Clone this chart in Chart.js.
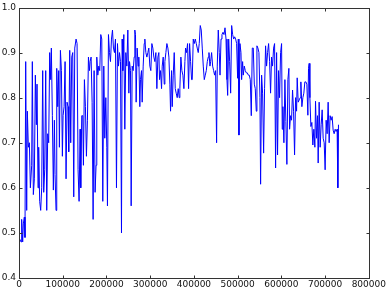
<!DOCTYPE html>
<html>
<head>
<meta charset="utf-8">
<script src="https://cdn.jsdelivr.net/npm/chart.js@4.4.1/dist/chart.umd.min.js"></script>
<style>
  body { margin: 0; background: #fff; }
  #wrap { width: 388px; height: 290px; }
</style>
</head>
<body>
<div id="wrap"><canvas id="myChart" width="388" height="290"></canvas></div>
<script>
// x positions (samples) and values
const xs = [
  0, 2300, 4600, 6100, 8400, 9900, 12200, 13700, 15300, 17600, 19100, 21400, 23700, 26000, 29000,
  30500, 32800, 35100, 37400, 39700, 41200, 43500, 45000, 47300, 49600, 51900, 54200, 56500, 58800,
  61100, 63400, 65700, 67900, 70200, 72500, 74000, 76300, 78600, 80900, 82400, 84700, 86300, 88600,
  90800, 92400, 94700, 97000, 99200, 100800, 103100, 105400, 107600, 109900, 112200, 113700, 116000,
  118300, 120600, 122900, 125200, 127500, 130500, 132800, 135100, 137400, 139700, 141200, 143500,
  145800, 147300, 149600, 151900, 154200, 156500, 158800, 161100, 162600, 164900, 167200, 169500,
  171800, 174000, 176300, 177900, 180200, 182500, 184700, 187000, 189300, 191600, 193900, 196200,
  198500, 200800, 202300, 204600, 206900, 209200, 211500, 213800, 216000, 218300, 220600, 222900,
  225200, 227500, 229800, 232100, 234400, 235900, 237400, 239700, 242000, 244300, 246600, 248900,
  251200, 252700, 255000, 256500, 258800, 261100, 263400, 264900, 266400, 267900, 270200, 272500,
  274000, 276300, 277800, 280200, 281700, 284000, 286300, 287800, 290100, 292400, 294700, 296900,
  299200, 301500, 303800, 306100, 308400, 310700, 313000, 315300, 317600, 319800, 321400, 323700,
  326000, 327500, 329800, 332100, 333600, 335900, 338200, 340500, 342800, 345000, 346600, 348900,
  350400, 352700, 355000, 357300, 359500, 361800, 364100, 366400, 367900, 370200, 372500, 374800,
  377100, 379400, 380900, 383200, 385500, 387800, 390100, 392400, 394700, 396200, 398500, 400800,
  403100, 405400, 407600, 409900, 412200, 414500, 416800, 419100, 421400, 423700, 426000, 428300,
  430600, 432800, 434400, 436700, 438200, 440500, 442800, 445100, 447300, 449600, 451900, 453400,
  455700, 458000, 459700, 462000, 464200, 466500, 468800, 471100, 473400, 475600, 477200, 479500,
  481700, 484000, 486300, 488600, 490900, 493200, 495400, 497700, 500000, 501500, 503000, 505300,
  507600, 509100, 511400, 512900, 515200, 517500, 519800, 522100, 524400, 526600, 528900, 531200,
  533500, 535800, 538100, 540300, 542600, 544100, 546400, 548700, 551000, 552500, 554800, 557100,
  559400, 561600, 563900, 566200, 568500, 570800, 573100, 575300, 577600, 579900, 582200, 584500,
  586800, 589100, 591300, 593600, 595900, 598200, 600500, 602000, 603500, 605800, 608100, 610300,
  612600, 614900, 617200, 618800, 621000, 623300, 625600, 627900, 630200, 632500, 634800, 636200,
  638500, 640800, 643100, 644600, 646900, 649200, 651400, 653700, 656000, 658300, 660600, 662100,
  663600, 665200, 667500, 669700, 672000, 674300, 676600, 678100, 680400, 682700, 684200, 686400,
  688700, 691000, 693300, 695600, 697900, 700100, 702400, 704700, 707000, 709300, 711500, 713800,
  716100, 718400, 720700, 723000, 725200, 727500, 729100, 730600
];
const ys = [
  0.49, 0.485, 0.48, 0.53, 0.48, 0.52, 0.535, 0.49, 0.88, 0.55, 0.77, 0.69, 0.70, 0.60, 0.65,
  0.88, 0.585, 0.62, 0.85, 0.74, 0.83, 0.60, 0.69, 0.57, 0.55, 0.60, 0.86, 0.59, 0.64,
  0.86, 0.55, 0.72, 0.70, 0.90, 0.84, 0.91, 0.76, 0.595, 0.75, 0.63, 0.55, 0.865, 0.78,
  0.86, 0.69, 0.905, 0.86, 0.67, 0.76, 0.78, 0.88, 0.62, 0.79, 0.78, 0.68, 0.905,
  0.70, 0.89, 0.90, 0.58, 0.91, 0.93, 0.92, 0.64, 0.57, 0.73, 0.60, 0.76,
  0.76, 0.65, 0.84, 0.78, 0.67, 0.75, 0.89, 0.86, 0.88, 0.89, 0.79, 0.53,
  0.86, 0.59, 0.65, 0.89, 0.85, 0.87, 0.86, 0.94, 0.93, 0.57, 0.87, 0.71,
  0.80, 0.69, 0.56, 0.94, 0.90, 0.88, 0.93, 0.95, 0.91, 0.90, 0.93, 0.60,
  0.92, 0.87, 0.90, 0.88, 0.50, 0.93, 0.86, 0.94, 0.73, 0.90, 0.87, 0.95,
  0.81, 0.88, 0.86, 0.56, 0.87, 0.86, 0.89, 0.95, 0.94, 0.79, 0.91, 0.87,
  0.89, 0.78, 0.84, 0.86, 0.79, 0.87, 0.92, 0.93, 0.90, 0.89, 0.90, 0.91,
  0.87, 0.86, 0.92, 0.91, 0.89, 0.88, 0.90, 0.82, 0.89, 0.90, 0.84, 0.86,
  0.82, 0.87, 0.89, 0.83, 0.88, 0.90, 0.92, 0.91, 0.89, 0.83, 0.77, 0.86,
  0.78, 0.85, 0.90, 0.82, 0.81, 0.80, 0.82, 0.80, 0.82, 0.89, 0.86, 0.85,
  0.82, 0.88, 0.91, 0.90, 0.92, 0.82, 0.92, 0.88, 0.84, 0.84, 0.93, 0.92,
  0.93, 0.92, 0.91, 0.90, 0.92, 0.96, 0.95, 0.91, 0.87, 0.84, 0.85, 0.86,
  0.88, 0.89, 0.90, 0.87, 0.88, 0.90, 0.87, 0.86, 0.85, 0.86, 0.70, 0.87,
  0.95, 0.90, 0.85, 0.93, 0.94, 0.945, 0.94, 0.955, 0.93, 0.84, 0.805, 0.93,
  0.88, 0.81, 0.96, 0.94, 0.93, 0.935, 0.93, 0.92, 0.843, 0.93, 0.717, 0.92,
  0.90, 0.84, 0.88, 0.85, 0.87, 0.86, 0.855, 0.855, 0.85, 0.85, 0.84, 0.76,
  0.91, 0.91, 0.83, 0.82, 0.77, 0.915, 0.91, 0.90, 0.80, 0.608, 0.85, 0.81,
  0.677, 0.82, 0.915, 0.87, 0.90, 0.92, 0.88, 0.81, 0.89, 0.87, 0.91, 0.92,
  0.644, 0.90, 0.673, 0.86, 0.80, 0.90, 0.92, 0.73, 0.78, 0.70, 0.84, 0.747,
  0.652, 0.84, 0.865, 0.73, 0.76, 0.75, 0.817, 0.77, 0.673, 0.80, 0.77, 0.844,
  0.79, 0.795, 0.80, 0.835, 0.78, 0.80, 0.81, 0.835, 0.835, 0.83, 0.761, 0.865,
  0.876, 0.80, 0.736, 0.745, 0.695, 0.73, 0.69, 0.792, 0.71, 0.76, 0.655, 0.79,
  0.69, 0.74, 0.773, 0.71, 0.70, 0.64, 0.75, 0.72, 0.79, 0.70, 0.76, 0.75,
  0.758, 0.728, 0.72, 0.73, 0.725, 0.73, 0.60, 0.74
];

const xTicks = [0, 100000, 200000, 300000, 400000, 500000, 600000, 700000, 800000];
const yTicks = [0.4, 0.5, 0.6, 0.7, 0.8, 0.9, 1.0];

const points = xs.map((x, i) => ({ x: x, y: ys[i] }));

// matplotlib style frame with inward ticks on all four sides
const frameTicks = {
  id: 'frameTicks',
  afterDraw(chart) {
    const ctx = chart.ctx;
    const a = chart.chartArea;
    const sx = chart.scales.x, sy = chart.scales.y;
    const L = Math.round(a.left) + 0.5, R = Math.round(a.right) + 0.5;
    const T = Math.round(a.top) + 0.5, B = Math.round(a.bottom) + 0.5;
    ctx.save();
    ctx.strokeStyle = '#333';
    ctx.lineWidth = 1;
    ctx.strokeRect(L, T, R - L, B - T);
    ctx.beginPath();
    xTicks.forEach(v => {
      const px = Math.round(sx.getPixelForValue(v)) + 0.5;
      ctx.moveTo(px, B); ctx.lineTo(px, B - 3);
      ctx.moveTo(px, T); ctx.lineTo(px, T + 3);
    });
    yTicks.forEach(v => {
      const py = Math.round(sy.getPixelForValue(v)) + 0.5;
      ctx.moveTo(L, py); ctx.lineTo(L + 3, py);
      ctx.moveTo(R, py); ctx.lineTo(R - 3, py);
    });
    ctx.stroke();
    ctx.restore();
  }
};

const ctx = document.getElementById('myChart').getContext('2d');
new Chart(ctx, {
  type: 'line',
  data: {
    datasets: [{
      data: points,
      borderColor: '#0000ff',
      borderWidth: 1,
      pointRadius: 0,
      fill: false,
      tension: 0
    }]
  },
  options: {
    responsive: false,
    animation: false,
    parsing: false,
    layout: { padding: { top: 2, right: 19, left: 0, bottom: 0 } },
    plugins: { legend: { display: false }, tooltip: { enabled: false } },
    scales: {
      x: {
        type: 'linear',
        min: 0,
        max: 800000,
        afterFit: s => { s.height = 12; },
        afterBuildTicks: s => { s.ticks = xTicks.map(v => ({ value: v })); },
        grid: { display: false, drawTicks: false },
        border: { display: false },
        ticks: {
          font: { family: 'DejaVu Sans', size: 9, lineHeight: 1 },
          color: '#111',
          padding: 2,
          maxRotation: 0,
          callback: v => String(v)
        }
      },
      y: {
        min: 0.4,
        max: 1.0,
        afterFit: s => { s.width = 19; },
        afterBuildTicks: s => { s.ticks = yTicks.map(v => ({ value: v })); },
        grid: { display: false, drawTicks: false },
        border: { display: false },
        ticks: {
          font: { family: 'DejaVu Sans', size: 9, lineHeight: 1 },
          color: '#111',
          padding: 3,
          callback: v => v.toFixed(1)
        }
      }
    }
  },
  plugins: [frameTicks]
});
</script>
</body>
</html>
